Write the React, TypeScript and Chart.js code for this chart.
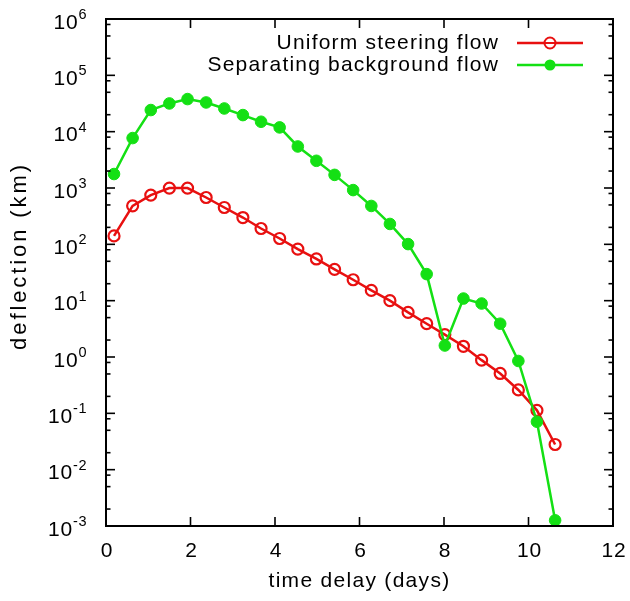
import React, { useEffect, useRef } from "react";
import { Chart, registerables } from "chart.js";

Chart.register(...registerables);

// ---- data ----
const timeDelay = [
  0.19, 0.63, 1.06, 1.5, 1.93, 2.37, 2.8, 3.24, 3.67, 4.11, 4.54, 4.98, 5.41,
  5.85, 6.28, 6.72, 7.15, 7.59, 8.02, 8.46, 8.89, 9.33, 9.76, 10.2, 10.63,
];
const uniformFlow = [
  141, 483, 748, 996, 996, 678, 451, 299, 191, 127, 82, 55, 36, 23.5, 15.2, 10,
  6.2, 3.9, 2.5, 1.55, 0.88, 0.51, 0.26, 0.113, 0.028,
];
const separatingFlow = [
  1770, 7700, 24200, 31700, 37900, 33000, 25800, 19700, 15000, 11900, 5460,
  3040, 1710, 918, 480, 230, 101, 29.6, 1.6, 10.9, 8.9, 3.9, 0.85, 0.071,
  0.00126,
];
const seriesLabels = ["Uniform steering flow", "Separating background flow"];
const xTicks = [0, 2, 4, 6, 8, 10, 12];
const yDecadeExponents = [-3, -2, -1, 0, 1, 2, 3, 4, 5, 6];
const yMinorMantissas = [2, 5, 8];
const xTitle = "time delay (days)";
const yTitle = "deflection (km)";

const RED = "#e81010";
const GREEN = "#14e014";
const INK = "#000000";
const FONT = '"Liberation Sans", Arial, Helvetica, sans-serif';

const gnuplotDecor = {
  id: "gnuplotDecor",
  afterDraw(chart: any) {
    const { ctx, chartArea: ca } = chart;
    const xs = chart.scales.x;
    const ys = chart.scales.y;
    ctx.save();
    ctx.strokeStyle = INK;
    ctx.fillStyle = INK;

    // frame
    ctx.lineWidth = 2;
    ctx.strokeRect(ca.left, ca.top, ca.right - ca.left, ca.bottom - ca.top);

    ctx.lineWidth = 1.6;
    const hline = (x1: number, x2: number, y: number) => {
      ctx.beginPath();
      ctx.moveTo(x1, y);
      ctx.lineTo(x2, y);
      ctx.stroke();
    };
    const vline = (x: number, y1: number, y2: number) => {
      ctx.beginPath();
      ctx.moveTo(x, y1);
      ctx.lineTo(x, y2);
      ctx.stroke();
    };
    // y ticks (inward, mirrored)
    yDecadeExponents.forEach((e) => {
      const py = ys.getPixelForValue(Math.pow(10, e));
      hline(ca.left, ca.left + 9, py);
      hline(ca.right - 9, ca.right, py);
      if (e < 6) {
        yMinorMantissas.forEach((m) => {
          const pm = ys.getPixelForValue(m * Math.pow(10, e));
          hline(ca.left, ca.left + 4.5, pm);
          hline(ca.right - 4.5, ca.right, pm);
        });
      }
    });
    // x ticks (inward, mirrored)
    xTicks.forEach((t) => {
      const px = xs.getPixelForValue(t);
      vline(px, ca.bottom, ca.bottom - 9);
      vline(px, ca.top, ca.top + 9);
    });

    // y tick labels 10^e
    (ctx as any).letterSpacing = "0.8px";
    ctx.textBaseline = "middle";
    ctx.textAlign = "left";
    const rightEdge = ca.left - 19;
    yDecadeExponents.forEach((e) => {
      const py = ys.getPixelForValue(Math.pow(10, e));
      const exp = String(e);
      ctx.font = `14px ${FONT}`;
      const we = ctx.measureText(exp).width;
      ctx.font = `21px ${FONT}`;
      const wb = ctx.measureText("10").width;
      ctx.fillText("10", rightEdge - we - wb, py + 4);
      ctx.font = `14.5px ${FONT}`;
      ctx.fillText(exp, rightEdge - we, py - 4);
    });

    // x tick labels
    ctx.textAlign = "center";
    ctx.font = `21px ${FONT}`;
    xTicks.forEach((t) => {
      ctx.fillText(String(t), xs.getPixelForValue(t) + 1, ca.bottom + 25);
    });

    // axis titles
    (ctx as any).letterSpacing = "1.3px";
    ctx.fillText(xTitle, (ca.left + ca.right) / 2, ca.bottom + 55);
    ctx.save();
    ctx.translate(20, 256);
    ctx.rotate(-Math.PI / 2);
    (ctx as any).letterSpacing = "2.9px";
    ctx.font = `22px ${FONT}`;
    ctx.fillText(yTitle, 0, 0);
    ctx.restore();

    // legend (gnuplot style: text then sample)
    ctx.font = `21px ${FONT}`;
    (ctx as any).letterSpacing = "1.2px";
    ctx.textAlign = "right";
    const colors = [RED, GREEN];
    seriesLabels.forEach((lab, i) => {
      const y = 43 + 22 * i;
      ctx.fillStyle = INK;
      ctx.fillText(lab, 499, y);
      ctx.strokeStyle = colors[i];
      ctx.lineWidth = 2.5;
      hline(517, 583, y);
      ctx.beginPath();
      ctx.arc(550, y, 5.5, 0, Math.PI * 2);
      if (i === 0) {
        ctx.lineWidth = 2;
        ctx.strokeStyle = RED;
        ctx.fillStyle = "#ffffff";
        ctx.fill();
        ctx.stroke();
        hline(544.5, 555.5, y);
      } else {
        ctx.fillStyle = GREEN;
        ctx.fill();
      }
    });
    ctx.restore();
  },
};

export default function App() {
  const ref = useRef<HTMLCanvasElement>(null);
  useEffect(() => {
    const canvas = ref.current;
    if (!canvas) return;
    const toPoints = (ys: number[]) => ys.map((y, i) => ({ x: timeDelay[i], y }));
    const chart = new Chart(canvas, {
      type: "line",
      data: {
        datasets: [
          {
            label: seriesLabels[0],
            data: toPoints(uniformFlow),
            borderColor: RED,
            backgroundColor: "rgba(0,0,0,0)",
            pointBackgroundColor: "rgba(0,0,0,0)",
            pointBorderColor: RED,
            pointRadius: 5.5,
            pointBorderWidth: 2.2,
            borderWidth: 2.5,
            tension: 0,
            order: 1,
          },
          {
            label: seriesLabels[1],
            data: toPoints(separatingFlow),
            borderColor: GREEN,
            backgroundColor: GREEN,
            pointBackgroundColor: GREEN,
            pointBorderColor: GREEN,
            pointRadius: 5.8,
            pointBorderWidth: 1,
            borderWidth: 2.5,
            tension: 0,
            order: 0,
          },
        ],
      },
      options: {
        responsive: false,
        animation: false,
        devicePixelRatio: 1,
        layout: { padding: { left: 106, right: 17, top: 19, bottom: 75 } },
        plugins: { legend: { display: false }, tooltip: { enabled: false } },
        scales: {
          x: { type: "linear", min: 0, max: 12, display: false },
          y: { type: "logarithmic", min: 1e-3, max: 1e6, display: false },
        },
      },
      plugins: [gnuplotDecor],
    });
    return () => chart.destroy();
  }, []);

  return (
    <div style={{ position: "absolute", left: 0, top: 0, width: 630, height: 601, background: "#fff" }}>
      <canvas ref={ref} width={630} height={601} style={{ display: "block" }} />
    </div>
  );
}
